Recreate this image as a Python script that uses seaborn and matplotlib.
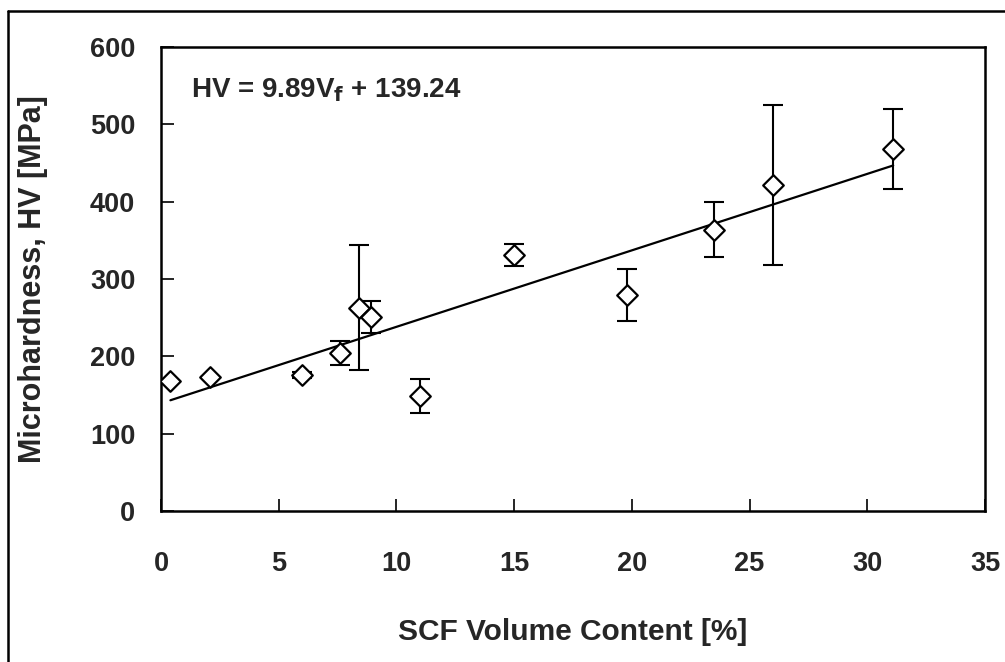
import numpy as np
import pandas as pd
import matplotlib
matplotlib.use("Agg")
import matplotlib.pyplot as plt
import seaborn as sns
from matplotlib.lines import Line2D

# Data
vf = [0.4, 2.1, 6.0, 7.6, 8.4, 8.9, 11.0, 15.0, 19.8, 23.5, 26.0, 31.1]
hv = [168, 173, 176, 204, 263, 251, 149, 331, 279, 364, 421, 468]
hv_err = [0, 0, 4, 15.5, 81, 20.5, 22, 14.5, 33.6, 35, 103.5, 51.5]
slope = 9.89
intercept = 139.24
x_ticks = [0, 5, 10, 15, 20, 25, 30, 35]
y_ticks = [0, 100, 200, 300, 400, 500, 600]

df = pd.DataFrame({"vf": vf, "hv": hv, "err": hv_err})

sns.set_theme(style="ticks")
plt.rcParams["font.family"] = ["Liberation Sans", "DejaVu Sans"]
plt.rcParams["font.weight"] = "bold"
plt.rcParams["mathtext.default"] = "bf"

fig = plt.figure(figsize=(10.05, 6.62), dpi=100)
ax = fig.add_axes([161 / 1005, 1 - 511 / 662, (985 - 161) / 1005, (511 - 47) / 662])

# outer frame (only left/top visible, cropped on right/bottom)
fx, fy = 7.5 / 1005, 1 - 11 / 662
fig.lines.append(Line2D([fx, fx], [0, fy], transform=fig.transFigure,
                        color="black", linewidth=1.8))
fig.lines.append(Line2D([fx, 1], [fy, fy], transform=fig.transFigure,
                        color="black", linewidth=1.8))

# error bars
ax.errorbar(df["vf"], df["hv"], yerr=df["err"], fmt="none", ecolor="black",
            elinewidth=1.5, capsize=7.5, capthick=1.5, zorder=2)

# fit line
fit_x = np.array([min(vf), max(vf)])
fit_df = pd.DataFrame({"x": fit_x, "y": slope * fit_x + intercept})
sns.lineplot(data=fit_df, x="x", y="y", ax=ax, color="black", linewidth=1.6, zorder=3)

# points
sns.scatterplot(data=df, x="vf", y="hv", ax=ax, marker="D", s=110,
                facecolor="white", edgecolor="black", linewidth=1.6, zorder=4)

ax.set_xlim(0, 35)
ax.set_ylim(0, 600)
ax.set_xticks(x_ticks)
ax.set_yticks(y_ticks)
ax.set_xticklabels([str(t) for t in x_ticks], fontsize=19.5, fontweight="bold")
ax.set_yticklabels([str(t) for t in y_ticks], fontsize=19.5, fontweight="bold")
ax.tick_params(direction="in", length=9, width=1.2, color="black")
ax.tick_params(axis="y", pad=18.5)
ax.tick_params(axis="x", pad=28.5)
for s in ax.spines.values():
    s.set_visible(True)
    s.set_linewidth(1.8)
    s.set_color("black")

ax.set_xlabel("SCF Volume Content [%]", fontsize=21.5, fontweight="bold", labelpad=30)
ax.set_ylabel("Microhardness, HV [MPa]", fontsize=22, fontweight="bold", labelpad=30)

ax.text(0.036, 0.908, r"HV = 9.89V$_\mathbf{f}$ + 139.24", transform=ax.transAxes,
        fontsize=20, fontweight="bold", va="center", ha="left")

fig.savefig("out.png", dpi=100)
